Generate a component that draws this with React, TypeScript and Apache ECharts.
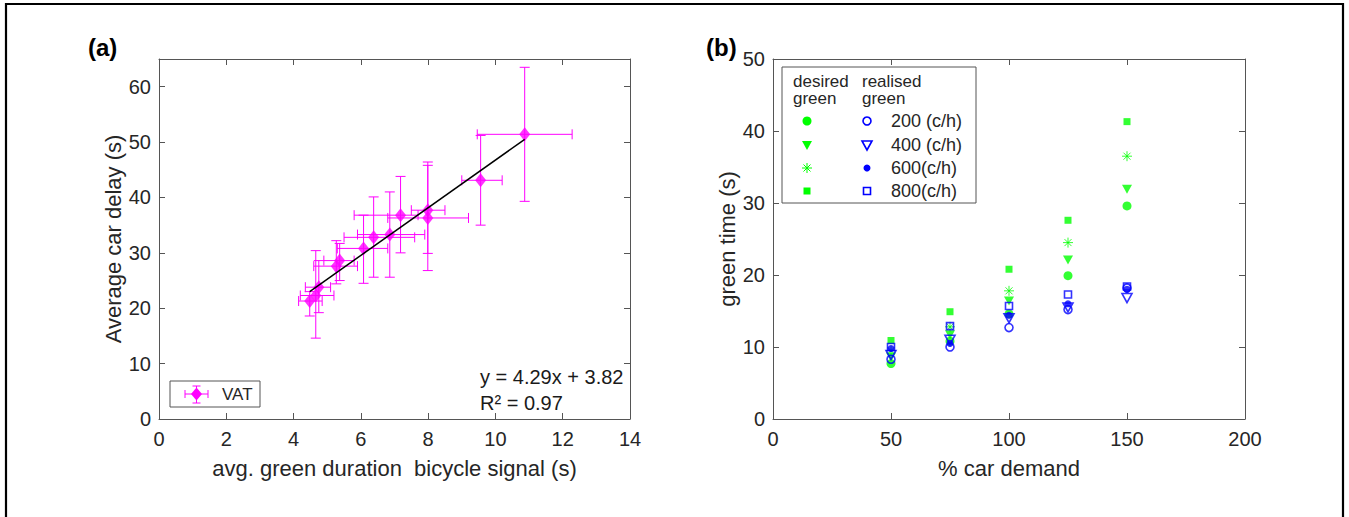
import React, { useEffect, useRef } from "react";
import * as echarts from "echarts";

// ---------- Panel (a) data ----------
const vatX = [4.48, 4.66, 4.75, 5.27, 5.37, 6.08, 6.38, 6.86, 7.18, 7.99, 7.99, 9.56, 10.87];
const vatY = [21.3, 22.3, 23.8, 27.6, 28.6, 30.8, 32.8, 33.3, 36.8, 37.7, 36.3, 43.1, 51.4];
const vatXLow = [4.15, 4.2, 4.35, 4.6, 4.9, 5.3, 5.5, 5.9, 5.8, 7.5, 6.8, 9.0, 9.46];
const vatXHigh = [4.85, 5.2, 5.1, 5.9, 5.8, 6.8, 7.6, 7.9, 7.7, 8.5, 9.2, 10.2, 12.28];
const vatYLow = [18.6, 14.6, 19.2, 24.4, 25.0, 24.5, 25.6, 25.6, 30.0, 29.9, 26.8, 35.0, 39.3];
const vatYHigh = [23.0, 30.4, 28.6, 32.2, 31.7, 36.8, 40.1, 41.0, 43.8, 46.4, 45.8, 51.2, 63.5];
const fitX = [4.48, 10.87];
const fitY = [23.0, 50.5];
const xTicksA = { min: 0, max: 14, interval: 2 };
const yTicksA = { min: 0, max: 65, interval: 10 };

// ---------- Panel (b) data ----------
const demand = [50, 75, 100, 125, 150];
const desired200 = [7.7, 10.8, 14.6, 19.9, 29.6];
const desired400 = [8.6, 11.7, 16.4, 22.1, 31.9];
const desired600 = [9.5, 12.8, 17.8, 24.5, 36.5];
const desired800 = [10.9, 14.9, 20.8, 27.6, 41.3];
const realised200 = [8.3, 10.0, 12.7, 15.2, 18.2];
const realised400 = [8.9, 11.0, 14.0, 15.5, 16.8];
const realised600 = [9.8, 10.5, 14.4, 16.0, 18.0];
const realised800 = [10.0, 12.9, 15.7, 17.3, 18.4];
const legendLabels = ["200 (c/h)", "400 (c/h)", "600(c/h)", "800(c/h)"];
const xTicksB = { min: 0, max: 200, interval: 50 };
const yTicksB = { min: 0, max: 50, interval: 10 };

const FONT = "'Liberation Sans', Arial, Helvetica, sans-serif";
const TXT = "#262626";
const AX = "#555555";
const MAG = "#ff00ff";
const GREEN = "#00ff00";
const BLUE = "#0000ff";
const STAR = "path://M5,0L5,10M0,5L10,5M1.5,1.5L8.5,8.5M1.5,8.5L8.5,1.5";

function axisBase(t: { min: number; max: number; interval: number }) {
  return {
    min: t.min,
    max: t.max,
    interval: t.interval,
    axisLine: { show: true, onZero: false, lineStyle: { color: AX, width: 1 } },
    axisTick: { show: true, inside: true, length: 6, lineStyle: { color: AX, width: 1 } },
    splitLine: { show: false },
  };
}

function mainX(t: any, grid: number, name: string, gap: number) {
  return {
    ...axisBase(t),
    type: "value",
    gridIndex: grid,
    position: "bottom",
    name,
    nameLocation: "middle",
    nameGap: gap,
    nameTextStyle: { fontSize: 22, color: TXT, fontFamily: FONT },
    axisLabel: { fontSize: 20, color: TXT, fontFamily: FONT, margin: 10 },
  };
}
function mainY(t: any, grid: number, name: string, gap: number) {
  return {
    ...axisBase(t),
    type: "value",
    gridIndex: grid,
    position: "left",
    name,
    nameLocation: "middle",
    nameGap: gap,
    nameTextStyle: { fontSize: 22, color: TXT, fontFamily: FONT },
    axisLabel: { fontSize: 20, color: TXT, fontFamily: FONT, margin: 8, showMaxLabel: t.max % t.interval === 0 },
  };
}
function boxAxis(t: any, grid: number, position: string) {
  return { ...axisBase(t), type: "value", gridIndex: grid, position, axisLabel: { show: false } };
}

function starLines(cx: number, cy: number, r: number, color: string) {
  const d = r * 0.7;
  const seg = [
    [cx - r, cy, cx + r, cy],
    [cx, cy - r, cx, cy + r],
    [cx - d, cy - d, cx + d, cy + d],
    [cx - d, cy + d, cx + d, cy - d],
  ];
  return {
    type: "group",
    children: seg.map((s) => ({
      type: "line",
      shape: { x1: s[0], y1: s[1], x2: s[2], y2: s[3] },
      style: { stroke: color, lineWidth: 1 },
    })),
  };
}

export default function App() {
  const ref = useRef<HTMLDivElement>(null);
  useEffect(() => {
    if (!ref.current) return;
    const chart = echarts.init(ref.current, null, { renderer: "svg" });

    const errData = vatX.map((x, i) => [x, vatY[i], vatXLow[i], vatXHigh[i], vatYLow[i], vatYHigh[i]]);
    const pts = (ys: number[]) => demand.map((d, i) => [d, ys[i]]);

    const legX1 = 807;
    const legX2 = 867;
    const rowY = [121, 145, 168, 191];

    const graphic: any[] = [
      { type: "rect", shape: { x: 6, y: 4, width: 1337, height: 600 }, style: { fill: "none", stroke: "#000", lineWidth: 2.2 }, silent: true },
      { type: "text", x: 88, y: 47, style: { text: "(a)", font: `bold 24px ${FONT}`, fill: "#000", verticalAlign: "middle" } },
      { type: "text", x: 706, y: 47, style: { text: "(b)", font: `bold 24px ${FONT}`, fill: "#000", verticalAlign: "middle" } },
      { type: "text", x: 480, y: 377, style: { text: "y = 4.29x + 3.82", font: `20px ${FONT}`, fill: "#1a1a1a", verticalAlign: "middle" } },
      { type: "text", x: 480, y: 403, style: { text: "R² = 0.97", font: `20px ${FONT}`, fill: "#1a1a1a", verticalAlign: "middle" } },
      // VAT legend
      { type: "rect", shape: { x: 170, y: 381, width: 90, height: 26 }, style: { fill: "#fff", stroke: AX, lineWidth: 1 } },
      { type: "line", shape: { x1: 185, y1: 394, x2: 208, y2: 394 }, style: { stroke: MAG, lineWidth: 1 } },
      { type: "line", shape: { x1: 185, y1: 390, x2: 185, y2: 398 }, style: { stroke: MAG, lineWidth: 1 } },
      { type: "line", shape: { x1: 208, y1: 390, x2: 208, y2: 398 }, style: { stroke: MAG, lineWidth: 1 } },
      { type: "line", shape: { x1: 196.5, y1: 386, x2: 196.5, y2: 403 }, style: { stroke: MAG, lineWidth: 1 } },
      { type: "line", shape: { x1: 192.5, y1: 386, x2: 200.5, y2: 386 }, style: { stroke: MAG, lineWidth: 1 } },
      { type: "line", shape: { x1: 192.5, y1: 403, x2: 200.5, y2: 403 }, style: { stroke: MAG, lineWidth: 1 } },
      { type: "polygon", shape: { points: [[196.5, 387.5], [202, 394], [196.5, 400.5], [191, 394]] }, style: { fill: MAG } },
      { type: "text", x: 222, y: 394, style: { text: "VAT", font: `17px ${FONT}`, fill: TXT, verticalAlign: "middle" } },
      // panel b legend
      { type: "rect", shape: { x: 782, y: 67, width: 194, height: 136 }, style: { fill: "#fff", stroke: AX, lineWidth: 1 } },
      { type: "text", x: 793, y: 89.5, style: { text: "desired\ngreen", font: `17px ${FONT}`, lineHeight: 17, fill: TXT, verticalAlign: "middle" } },
      { type: "text", x: 862, y: 89.5, style: { text: "realised\ngreen", font: `17px ${FONT}`, lineHeight: 17, fill: TXT, verticalAlign: "middle" } },
      { type: "circle", shape: { cx: legX1, cy: rowY[0], r: 4.5 }, style: { fill: GREEN } },
      { type: "polygon", shape: { points: [[legX1 - 5, rowY[1] - 4], [legX1 + 5, rowY[1] - 4], [legX1, rowY[1] + 5]] }, style: { fill: GREEN } },
      starLines(legX1, rowY[2], 5, GREEN),
      { type: "rect", shape: { x: legX1 - 3.5, y: rowY[3] - 3.5, width: 7, height: 7 }, style: { fill: GREEN } },
      { type: "circle", shape: { cx: legX2, cy: rowY[0], r: 4 }, style: { fill: "none", stroke: BLUE, lineWidth: 1.6 } },
      { type: "polygon", shape: { points: [[legX2 - 5, rowY[1] - 4], [legX2 + 5, rowY[1] - 4], [legX2, rowY[1] + 5]] }, style: { fill: "none", stroke: BLUE, lineWidth: 1.6 } },
      { type: "circle", shape: { cx: legX2, cy: rowY[2], r: 3.5 }, style: { fill: BLUE } },
      { type: "rect", shape: { x: legX2 - 3.5, y: rowY[3] - 3.5, width: 7, height: 7 }, style: { fill: "none", stroke: BLUE, lineWidth: 1.6 } },
      ...legendLabels.map((t, i) => ({ type: "text", x: 891, y: rowY[i], style: { text: t, font: `18px ${FONT}`, fill: TXT, verticalAlign: "middle" } })),
    ];

    const option: any = {
      animation: false,
      backgroundColor: "#ffffff",
      textStyle: { fontFamily: FONT },
      grid: [
        { left: 159, top: 59, width: 471, height: 360 },
        { left: 773, top: 59, width: 472, height: 360 },
      ],
      xAxis: [
        mainX(xTicksA, 0, "avg. green duration  bicycle signal (s)", 38),
        boxAxis(xTicksA, 0, "top"),
        mainX(xTicksB, 1, "% car demand", 38),
        boxAxis(xTicksB, 1, "top"),
      ],
      yAxis: [
        mainY(yTicksA, 0, "Average car delay (s)", 35),
        boxAxis(yTicksA, 0, "right"),
        mainY(yTicksB, 1, "green time (s)", 31),
        boxAxis(yTicksB, 1, "right"),
      ],
      series: [
        {
          type: "custom",
          xAxisIndex: 0,
          yAxisIndex: 0,
          data: errData,
          encode: { x: 0, y: 1 },
          renderItem: (_p: any, api: any) => {
            const x = api.value(0), y = api.value(1);
            const a = api.coord([api.value(2), y]);
            const b = api.coord([api.value(3), y]);
            const c = api.coord([x, api.value(4)]);
            const d = api.coord([x, api.value(5)]);
            const cap = 5;
            const st = { stroke: MAG, lineWidth: 1 };
            const ln = (x1: number, y1: number, x2: number, y2: number) => ({ type: "line", shape: { x1, y1, x2, y2 }, style: st });
            return {
              type: "group",
              children: [
                ln(a[0], a[1], b[0], b[1]),
                ln(a[0], a[1] - cap, a[0], a[1] + cap),
                ln(b[0], b[1] - cap, b[0], b[1] + cap),
                ln(c[0], c[1], d[0], d[1]),
                ln(c[0] - cap, c[1], c[0] + cap, c[1]),
                ln(d[0] - cap, d[1], d[0] + cap, d[1]),
              ],
            };
          },
        },
        {
          type: "scatter",
          xAxisIndex: 0,
          yAxisIndex: 0,
          symbol: "diamond",
          symbolSize: [11, 14],
          itemStyle: { color: MAG },
          data: vatX.map((x, i) => [x, vatY[i]]),
          z: 3,
        },
        {
          type: "line",
          xAxisIndex: 0,
          yAxisIndex: 0,
          showSymbol: false,
          lineStyle: { color: "#000", width: 1.5 },
          data: fitX.map((x, i) => [x, fitY[i]]),
          z: 4,
        },
        { type: "scatter", xAxisIndex: 2, yAxisIndex: 2, symbol: "circle", symbolSize: 9, itemStyle: { color: GREEN }, data: pts(desired200) },
        { type: "scatter", xAxisIndex: 2, yAxisIndex: 2, symbol: "triangle", symbolRotate: 180, symbolSize: [10, 9], itemStyle: { color: GREEN }, data: pts(desired400) },
        { type: "scatter", xAxisIndex: 2, yAxisIndex: 2, symbol: STAR, symbolSize: 10, itemStyle: { color: "rgba(0,0,0,0)", borderColor: GREEN, borderWidth: 1 }, data: pts(desired600) },
        { type: "scatter", xAxisIndex: 2, yAxisIndex: 2, symbol: "rect", symbolSize: 7, itemStyle: { color: GREEN }, data: pts(desired800) },
        { type: "scatter", xAxisIndex: 2, yAxisIndex: 2, symbol: "circle", symbolSize: 8, itemStyle: { color: "rgba(0,0,0,0)", borderColor: BLUE, borderWidth: 1.6 }, data: pts(realised200), z: 3 },
        { type: "scatter", xAxisIndex: 2, yAxisIndex: 2, symbol: "triangle", symbolRotate: 180, symbolSize: [10, 9], itemStyle: { color: "rgba(0,0,0,0)", borderColor: BLUE, borderWidth: 1.6 }, data: pts(realised400), z: 3 },
        { type: "scatter", xAxisIndex: 2, yAxisIndex: 2, symbol: "circle", symbolSize: 7, itemStyle: { color: BLUE }, data: pts(realised600), z: 3 },
        { type: "scatter", xAxisIndex: 2, yAxisIndex: 2, symbol: "rect", symbolSize: 7, itemStyle: { color: "rgba(0,0,0,0)", borderColor: BLUE, borderWidth: 1.6 }, data: pts(realised800), z: 3 },
      ],
      graphic,
    };
    chart.setOption(option);
    return () => chart.dispose();
  }, []);
  return (
    <div
      ref={ref}
      style={{ position: "absolute", left: 0, top: 0, width: 1349, height: 517, background: "#fff" }}
    />
  );
}
